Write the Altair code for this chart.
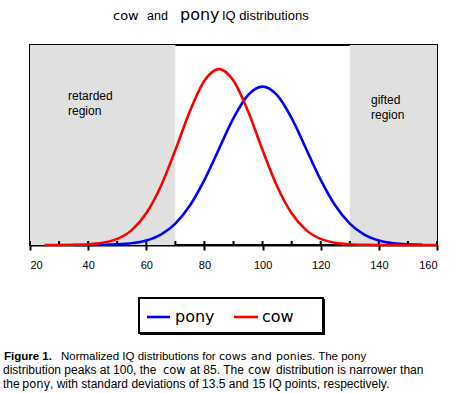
import altair as alt
import pandas as pd

# ---- data ----
cow_iq = [25, 30, 35, 40, 45, 50, 55, 60, 65, 70, 75, 80, 85, 90, 95, 100,
          105, 110, 115, 120, 125, 130, 135, 140, 145, 150, 155, 160]
cow_density = [0.0015, 0.0074, 0.031, 0.114, 0.367, 1.025, 2.50, 5.32, 9.87,
               15.94, 22.46, 27.59, 29.55, 27.59, 22.46, 15.94, 9.87, 5.32,
               2.50, 1.025, 0.367, 0.114, 0.031, 0.0074, 0.0015, 0.0003, 0.0, 0.0]
pony_iq = [35, 40, 45, 50, 55, 60, 65, 70, 75, 80, 85, 90, 95, 100,
           105, 110, 115, 120, 125, 130, 135, 140, 145, 150, 155]
pony_density = [0.0022, 0.0089, 0.032, 0.103, 0.296, 0.760, 1.748, 3.60, 6.63,
                10.94, 16.13, 21.30, 25.16, 26.60, 25.16, 21.30, 16.13, 10.94,
                6.63, 3.60, 1.748, 0.760, 0.296, 0.103, 0.032]
region_start = [20, 130]
region_end = [70, 160]
tick_values = [20, 30, 40, 50, 60, 70, 80, 90, 100, 110, 120, 130, 140, 150, 160]

PAD_L, PAD_T = 30, 45
W, H = 407, 200
ARIAL = "Liberation Sans"
ROUND = "DejaVu Sans"

xs = alt.Scale(domain=[20, 160], nice=False, zero=False)
ys = alt.Scale(domain=[0, 33.6], nice=False, zero=True)

regions = pd.DataFrame({"start": region_start, "end": region_end})
cow = pd.DataFrame({"iq": cow_iq, "density": cow_density})
pony = pd.DataFrame({"iq": pony_iq, "density": pony_density})
ticks = pd.DataFrame({"v": tick_values})

shade = alt.Chart(regions).mark_rect(color="#e0e0e0").encode(
    x=alt.X("start:Q", scale=xs,
            axis=alt.Axis(values=tick_values,
                          labelExpr="datum.value % 20 == 0 ? datum.label : ''",
                          tickSize=5, tickWidth=2, tickColor="black",
                          domainColor="black", domainWidth=2,
                          labelFont=ARIAL, labelFontSize=11, labelColor="black",
                          labelPadding=9, labelOverlap=False, grid=False,
                          title=None)),
    x2="end:Q",
    y=alt.value(0), y2=alt.value(H),
)

up_ticks = alt.Chart(ticks).mark_rule(color="black", strokeWidth=2).encode(
    x=alt.X("v:Q", scale=xs), y=alt.value(H - 4), y2=alt.value(H)
)

pony_line = alt.Chart(pony).mark_line(color="#0000ff", strokeWidth=2.6,
                                      interpolate="monotone").encode(
    x=alt.X("iq:Q", scale=xs),
    y=alt.Y("density:Q", scale=ys, axis=None),
)
cow_line = alt.Chart(cow).mark_line(color="#ff0000", strokeWidth=2.6,
                                    interpolate="monotone").encode(
    x=alt.X("iq:Q", scale=xs),
    y=alt.Y("density:Q", scale=ys, axis=None),
)


def ann(text, ax, ay, size=12, font=ARIAL, weight="normal", color="black"):
    return alt.Chart(pd.DataFrame({"t": [text]})).mark_text(
        align="left", baseline="alphabetic", font=font, fontSize=size,
        fontWeight=weight, color=color,
    ).encode(x=alt.value(ax - PAD_L), y=alt.value(ay - PAD_T), text="t:N")


def box(ax0, ay0, ax1, ay1, fill, stroke=None, sw=0):
    kw = dict(fill=fill)
    if stroke:
        kw.update(stroke=stroke, strokeWidth=sw)
    return alt.Chart(pd.DataFrame({"a": [0]})).mark_rect(**kw).encode(
        x=alt.value(ax0 - PAD_L), x2=alt.value(ax1 - PAD_L),
        y=alt.value(ay0 - PAD_T), y2=alt.value(ay1 - PAD_T))


def seg(ax0, ax1, ay, color):
    return alt.Chart(pd.DataFrame({"a": [0]})).mark_rule(
        color=color, strokeWidth=2.6).encode(
        x=alt.value(ax0 - PAD_L), x2=alt.value(ax1 - PAD_L),
        y=alt.value(ay - PAD_T))


L1, L2, L3 = 360, 374, 388

layers = [
    shade, up_ticks,
    ann("retarded", 68, 100), ann("region", 68, 115),
    ann("gifted", 371, 104), ann("region", 371, 119),
    pony_line, cow_line,
    # title
    ann("cow", 113, 20, size=13, font=ROUND),
    ann("and", 147, 20, size=12.5),
    ann("pony", 180, 20, size=16, font=ROUND),
    ann("IQ distributions", 222, 20, size=13),
    # legend
    box(140, 299, 325, 335, "black"),
    box(139, 298, 323, 333, "white", "black", 2),
    seg(147, 170, 317, "#0000ff"),
    ann("pony", 175, 322, size=16, font=ROUND),
    seg(234, 258, 317, "#ff0000"),
    ann("cow", 262, 322, size=16, font=ROUND),
    # caption
    ann("Figure 1.", 4, L1, size=11.5, weight="bold"),
    ann("Normalized IQ distributions for", 61, L1, size=11.5),
    ann("cows", 219, L1, font=ROUND, size=11),
    ann("and", 251, L1, font=ROUND, size=11),
    ann("ponies", 276, L1, font=ROUND, size=11),
    ann(". The pony", 312, L1, size=11.5),
    ann("distribution peaks at 100, the", 3, L2),
    ann("cow", 163, L2, font=ROUND, size=11.5),
    ann("at 85. The", 190, L2),
    ann("cow", 248, L2, font=ROUND, size=11.5),
    ann("distribution is narrower than", 276, L2),
    ann("the", 3, L3),
    ann("pony", 22, L3, font=ROUND, size=11.5),
    ann(", with standard deviations of 13.5 and 15 IQ points, respectively.", 50, L3),
]

chart = alt.layer(*layers).properties(
    width=W, height=H,
    autosize=alt.AutoSizeParams(type="none"),
    padding={"left": PAD_L, "top": PAD_T, "right": 462 - PAD_L - W,
             "bottom": 393 - PAD_T - H},
    background="white",
).configure_view(stroke="black", strokeWidth=2)

chart.save("out.html", embed_options={"renderer": "svg", "actions": False})
